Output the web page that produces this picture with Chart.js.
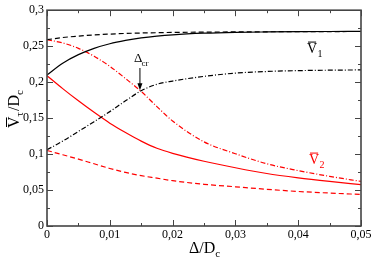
<!DOCTYPE html>
<html>
<head>
<meta charset="utf-8">
<script src="https://cdn.jsdelivr.net/npm/chart.js@4"></script>
<style>
html,body{margin:0;padding:0;background:#fff;}
#wrap{width:374px;height:263px;}
</style>
</head>
<body>
<div id="wrap"><canvas id="c" width="374" height="263"></canvas></div>
<script>
// ---- data ----
const deltas      = [0, 0.0025, 0.005, 0.0075, 0.01, 0.0125, 0.015, 0.0175, 0.02, 0.025, 0.03, 0.035, 0.04, 0.045, 0.05];
const v1Solid     = [0.210, 0.2263, 0.2382, 0.247, 0.2534, 0.258, 0.2615, 0.264, 0.2658, 0.268, 0.2692, 0.2698, 0.2702, 0.2704, 0.2705];
const v1Dashed    = [0.259, 0.262, 0.264, 0.2657, 0.2668, 0.2677, 0.2683, 0.2687, 0.2691, 0.2695, 0.2698, 0.2700, 0.2702, 0.2703, 0.2704];
const v1DashDot   = [0.106, 0.118, 0.1315, 0.145, 0.159, 0.174, 0.188, 0.197, 0.2015, 0.208, 0.2125, 0.2148, 0.216, 0.2166, 0.217];
const v2Solid     = [0.209, 0.191, 0.174, 0.158, 0.143, 0.130, 0.118, 0.108, 0.101, 0.090, 0.081, 0.073, 0.067, 0.062, 0.0575];
const v2Dashed    = [0.105, 0.099, 0.093, 0.0865, 0.080, 0.0745, 0.070, 0.0665, 0.063, 0.058, 0.0545, 0.051, 0.048, 0.0458, 0.0438];
const v2DashDot   = [0.259, 0.2545, 0.247, 0.236, 0.222, 0.205, 0.187, 0.166, 0.146, 0.117, 0.1005, 0.0865, 0.077, 0.069, 0.062];
const xTicks      = [0, 0.01, 0.02, 0.03, 0.04, 0.05];
const yTicks      = [0, 0.05, 0.1, 0.15, 0.2, 0.25, 0.3];
const deltaCr     = 0.0148;
const deltaCrVal  = 0.1886;

const pts = arr => arr.map((v, i) => ({x: deltas[i], y: v}));
const BLACK = '#000000', RED = '#ff0000';
const DASH = [5, 3], DASHDOT = [5, 2, 1, 2];

function ds(data, color, dash) {
  return {data: pts(data), borderColor: color, borderWidth: 1.2, borderDash: dash,
          pointRadius: 0, fill: false, cubicInterpolationMode: 'monotone'};
}

const fmt = v => (Math.abs(v) < 1e-9 ? '0' : String(+v.toFixed(3)).replace('.', ','));

const SERIF = '"Liberation Serif", "DejaVu Serif", serif';

function barText(ctx, x, y, main, sub, size, subSize, color) {
  ctx.save();
  ctx.fillStyle = color; ctx.strokeStyle = color;
  ctx.font = size + 'px ' + SERIF;
  ctx.textBaseline = 'alphabetic'; ctx.textAlign = 'left';
  ctx.fillText(main, x, y);
  const w = ctx.measureText(main).width;
  ctx.lineWidth = 1;
  ctx.beginPath(); ctx.moveTo(x + 1, y - size * 0.78); ctx.lineTo(x + w - 1, y - size * 0.78); ctx.stroke();
  ctx.font = subSize + 'px ' + SERIF;
  ctx.fillText(sub, x + w + 0.5, y + subSize * 0.35);
  ctx.restore();
}

const deco = {
  id: 'deco',
  afterDatasetsDraw(chart) {
    const ctx = chart.ctx, a = chart.chartArea;
    const xs = chart.scales.x, ys = chart.scales.y;
    ctx.save();
    // frame
    ctx.strokeStyle = '#444'; ctx.lineWidth = 1.6;
    ctx.strokeRect(a.left, a.top, a.right - a.left, a.bottom - a.top);
    // inward ticks
    ctx.lineWidth = 1; ctx.strokeStyle = '#444';
    ctx.beginPath();
    for (let i = 0; i <= 10; i++) {
      const v = i * 0.005, px = Math.round(xs.getPixelForValue(v)) + 0.5;
      const L = (i % 2 === 0) ? 6 : 3;
      ctx.moveTo(px, a.bottom); ctx.lineTo(px, a.bottom - L);
      ctx.moveTo(px, a.top); ctx.lineTo(px, a.top + L);
    }
    for (let i = 0; i <= 12; i++) {
      const v = i * 0.025, py = Math.round(ys.getPixelForValue(v)) + 0.5;
      const L = (i % 2 === 0) ? 6 : 3;
      ctx.moveTo(a.left, py); ctx.lineTo(a.left + L, py);
      ctx.moveTo(a.right, py); ctx.lineTo(a.right - L, py);
    }
    ctx.stroke();

    // Delta_cr arrow
    const ax = xs.getPixelForValue(deltaCr), ay = ys.getPixelForValue(deltaCrVal);
    ctx.strokeStyle = '#000'; ctx.fillStyle = '#000'; ctx.lineWidth = 1;
    ctx.beginPath(); ctx.moveTo(ax, 68); ctx.lineTo(ax, ay - 5); ctx.stroke();
    ctx.beginPath(); ctx.moveTo(ax, ay); ctx.lineTo(ax - 2.5, ay - 7); ctx.lineTo(ax + 2.5, ay - 7); ctx.closePath(); ctx.fill();
    ctx.font = '13px ' + SERIF; ctx.textAlign = 'left'; ctx.textBaseline = 'alphabetic';
    ctx.fillText('Δ', ax - 6, 62);
    ctx.font = '9px ' + SERIF;
    ctx.fillText('cr', ax + 1.5, 66);

    // curve labels
    barText(ctx, 307, 53, 'V', '1', 14, 10, '#000');
    barText(ctx, 309, 164, 'V', '2', 14, 10, RED);

    // x title
    ctx.fillStyle = '#000';
    ctx.font = '16px ' + SERIF; ctx.textAlign = 'left';
    ctx.fillText('Δ/D', 189, 253);
    const wx = ctx.measureText('Δ/D').width;
    ctx.font = '11px ' + SERIF;
    ctx.fillText('c', 189 + wx, 257);

    // y title (rotated)
    ctx.translate(19, 128);
    ctx.rotate(-Math.PI / 2);
    ctx.font = '16px ' + SERIF;
    ctx.fillText('V', 0, 0);
    const wv = ctx.measureText('V').width;
    ctx.beginPath(); ctx.lineWidth = 1; ctx.moveTo(1, -12.5); ctx.lineTo(wv - 1, -12.5); ctx.stroke();
    ctx.font = '11px ' + SERIF;
    ctx.fillText('τ', wv, 4);
    const wt = ctx.measureText('τ').width;
    ctx.font = '16px ' + SERIF;
    ctx.fillText('/D', wv + wt + 1, 0);
    const wd = ctx.measureText('/D').width;
    ctx.font = '11px ' + SERIF;
    ctx.fillText('c', wv + wt + 1 + wd, 4);
    ctx.restore();
  }
};

new Chart(document.getElementById('c'), {
  type: 'line',
  data: {
    datasets: [
      ds(v1Solid, BLACK, []),
      ds(v1Dashed, BLACK, DASH),
      ds(v1DashDot, BLACK, DASHDOT),
      ds(v2Solid, RED, []),
      ds(v2Dashed, RED, DASH),
      ds(v2DashDot, RED, DASHDOT)
    ]
  },
  options: {
    responsive: false, animation: false,
    layout: {padding: {top: 7, right: 13, left: 0, bottom: 0}},
    plugins: {legend: {display: false}, tooltip: {enabled: false}},
    scales: {
      x: {
        type: 'linear', min: 0, max: 0.05,
        afterBuildTicks: s => { s.ticks = xTicks.map(v => ({value: v})); },
        afterFit: s => { s.height = 37; },
        grid: {display: false, drawTicks: false},
        border: {display: false},
        ticks: {padding: 2, color: '#000', font: {family: SERIF, size: 12}, maxRotation: 0, callback: fmt}
      },
      y: {
        type: 'linear', min: 0, max: 0.3,
        afterBuildTicks: s => { s.ticks = yTicks.map(v => ({value: v})); },
        afterFit: s => { s.width = 47; },
        grid: {display: false, drawTicks: false},
        border: {display: false},
        ticks: {padding: 3, color: '#000', font: {family: SERIF, size: 12}, callback: fmt}
      }
    }
  },
  plugins: [deco]
});
</script>
</body>
</html>
